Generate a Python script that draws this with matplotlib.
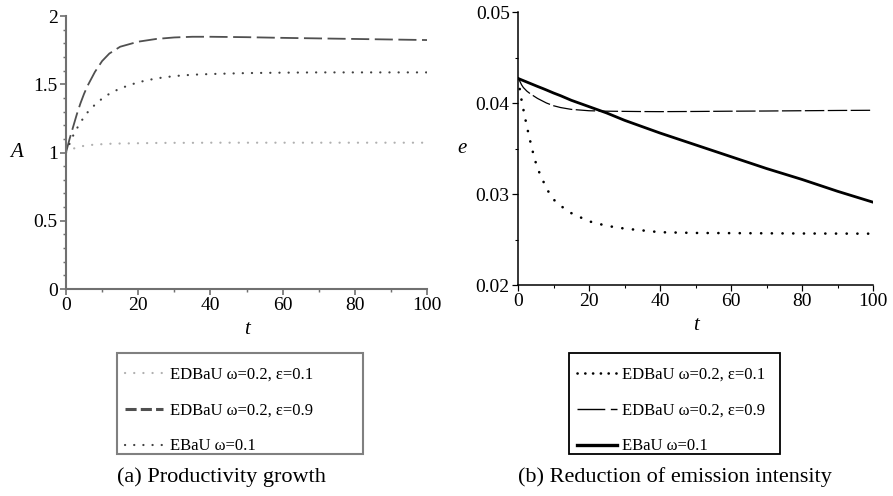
import matplotlib
matplotlib.use('Agg')
import matplotlib.pyplot as plt
from matplotlib.ticker import MultipleLocator
from matplotlib.lines import Line2D
from matplotlib.patches import Rectangle

plt.rcParams['font.family'] = ['Liberation Serif', 'DejaVu Serif']
plt.rcParams['lines.scale_dashes'] = False

# Productivity A(t)
t_a = [0, 1, 2, 3, 4, 5, 6, 8, 10, 12, 15, 20, 25, 30, 35, 40, 50, 60, 70, 80, 90, 100]
a_eps01 = [1.0, 1.015, 1.028, 1.037, 1.044, 1.049, 1.053, 1.058, 1.061, 1.064, 1.066,
           1.068, 1.070, 1.071, 1.071, 1.072, 1.072, 1.072, 1.072, 1.072, 1.072, 1.072]
a_eps09 = [1.0, 1.10, 1.19, 1.28, 1.36, 1.43, 1.49, 1.59, 1.67, 1.725, 1.775,
           1.812, 1.832, 1.843, 1.848, 1.848, 1.845, 1.840, 1.836, 1.832, 1.828, 1.824]
a_ebau = [1.0, 1.065, 1.125, 1.175, 1.22, 1.26, 1.295, 1.35, 1.395, 1.43, 1.47,
          1.515, 1.543, 1.56, 1.57, 1.575, 1.582, 1.585, 1.587, 1.587, 1.587, 1.587]

# Emission intensity e(t)
t_e = [0, 0.5, 1, 1.5, 2.5, 3.5, 4.5, 5.5, 7, 8, 10, 12, 15, 20, 25, 30, 35, 40, 50, 60, 70, 80, 90, 100]
e_eps01 = [0.0427, 0.0415, 0.0403, 0.0393, 0.0374, 0.0357, 0.0341, 0.0328, 0.0315, 0.0306,
           0.0294, 0.0287, 0.0279, 0.0270, 0.0265, 0.0262, 0.0260, 0.0258, 0.02572, 0.0257,
           0.02568, 0.02566, 0.02565, 0.02564]
e_eps09 = [0.0427, 0.0424, 0.0420, 0.0417, 0.0413, 0.0410, 0.04075, 0.0405, 0.0402, 0.0400,
           0.0397, 0.0395, 0.0393, 0.03915, 0.0391, 0.03908, 0.03906, 0.03905, 0.03907,
           0.0391, 0.03912, 0.03915, 0.03918, 0.0392]
e_ebau = [0.0427, 0.04262, 0.04254, 0.04246, 0.0423, 0.04214, 0.04198, 0.04182, 0.04159,
          0.04143, 0.0411, 0.0408, 0.0403, 0.0396, 0.0389, 0.0381, 0.0374, 0.0367, 0.0354,
          0.0341, 0.0328, 0.0316, 0.0303, 0.0291]

labels = ['EDBaU ω=0.2, ε=0.1', 'EDBaU ω=0.2, ε=0.9', 'EBaU ω=0.1']

W, H = 893, 496
fig = plt.figure(figsize=(W / 100, H / 100), dpi=100)
ax1 = fig.add_axes([0.0739, 0.4173, 0.4043, 0.5504])
ax2 = fig.add_axes([0.5801, 0.4254, 0.3975, 0.5504])

dot_l = (0, (0.1, 6.5))
dot_r = (0, (0.1, 7.6))

# --- (a) productivity growth
l1, = ax1.plot(t_a, a_eps01, color='#b0b0b0', lw=1.6, linestyle=dot_l, dash_capstyle='round')
l2, = ax1.plot(t_a, a_eps09, color='#505050', lw=1.3, linestyle=(0, (13, 4)))
l3, = ax1.plot(t_a, a_ebau, color='#404040', lw=1.6, linestyle=dot_l, dash_capstyle='round')
ax1.set_xlim(0, 100)
ax1.set_ylim(0, 2)
ax1.xaxis.set_major_locator(MultipleLocator(20))
ax1.xaxis.set_minor_locator(MultipleLocator(10))
ax1.yaxis.set_major_locator(MultipleLocator(0.5))
ax1.yaxis.set_minor_locator(MultipleLocator(0.1))
ax1.yaxis.set_major_formatter(plt.FuncFormatter(lambda v, p: f'{v:g}'))

# --- (b) emission intensity
r1, = ax2.plot(t_e, e_eps01, color='black', lw=1.9, linestyle=dot_r, dash_capstyle='round')
r2, = ax2.plot(t_e, e_eps09, color='black', lw=0.9, linestyle=(0, (14, 2.5)))
r3, = ax2.plot(t_e, e_ebau, color='black', lw=2.0)
ax2.set_xlim(0, 100)
ax2.set_ylim(0.02, 0.05)
ax2.xaxis.set_major_locator(MultipleLocator(20))
ax2.xaxis.set_minor_locator(MultipleLocator(10))
ax2.yaxis.set_major_locator(MultipleLocator(0.01))
ax2.yaxis.set_minor_locator(MultipleLocator(0.005))
ax2.yaxis.set_major_formatter(plt.FuncFormatter(lambda v, p: f'{v:.2f}'))

for ax, col, lw in [(ax1, '#707070', 1.5), (ax2, 'black', 1.1)]:
    for s in ['top', 'right']:
        ax.spines[s].set_visible(False)
    for s in ['left', 'bottom']:
        ax.spines[s].set_color(col)
        ax.spines[s].set_linewidth(lw)
    ax.tick_params(which='major', direction='out', length=4, width=lw * 0.8, color=col,
                   labelsize=14, pad=2)
    ax.tick_params(which='minor', direction='out', length=2.5, width=lw * 0.7, color=col)
    ax.set_xlabel('t', fontsize=15, fontstyle='italic', labelpad=4)

ax1.set_ylabel('A', fontsize=15, fontstyle='italic', rotation=0, va='center', labelpad=12)
ax2.set_ylabel('e', fontsize=15, fontstyle='italic', rotation=0, va='center', labelpad=10)


def legend_box(ax, handles, x0, x1, edge, lw, **kw):
    # frame drawn separately so the rows can sit lower inside it
    top, bottom = 353, 454
    fig.add_artist(Rectangle((x0 / W, 1 - bottom / H), (x1 - x0) / W, (bottom - top) / H,
                             transform=fig.transFigure, fill=False, edgecolor=edge, lw=lw))
    return ax.legend(handles, labels, loc='upper left',
                     bbox_to_anchor=(x0 / W, 1 - bottom / H, (x1 - x0) / W, (bottom - top - 6) / H),
                     bbox_transform=fig.transFigure, mode='expand', borderaxespad=0,
                     fontsize=12, borderpad=0.45, labelspacing=1.2, frameon=False, **kw)


leg1 = legend_box(ax1, [l1, l2, l3], 117, 363, '#808080', 1.5,
                  handlelength=2.3, handletextpad=0.4)
leg1.legend_handles[1].set_linewidth(2.2)
leg1.legend_handles[1].set_linestyle((0, (8, 3)))

handles2 = [Line2D([], [], color='black', lw=1.9, linestyle=(0, (0.1, 5.5)), dash_capstyle='round'),
            Line2D([], [], color='black', lw=1.0, linestyle=(0, (20, 4))),
            Line2D([], [], color='black', lw=2.4)]
leg2 = legend_box(ax2, handles2, 569, 780, 'black', 1.3,
                  handlelength=2.4, handletextpad=0.35)

fig.text(221 / W, 1 - 477 / H, '(a) Productivity growth', ha='center', va='center', fontsize=16)
fig.text(675 / W, 1 - 477 / H, '(b) Reduction of emission intensity', ha='center', va='center', fontsize=16)

fig.savefig('out.png', dpi=100)
plt.close(fig)
